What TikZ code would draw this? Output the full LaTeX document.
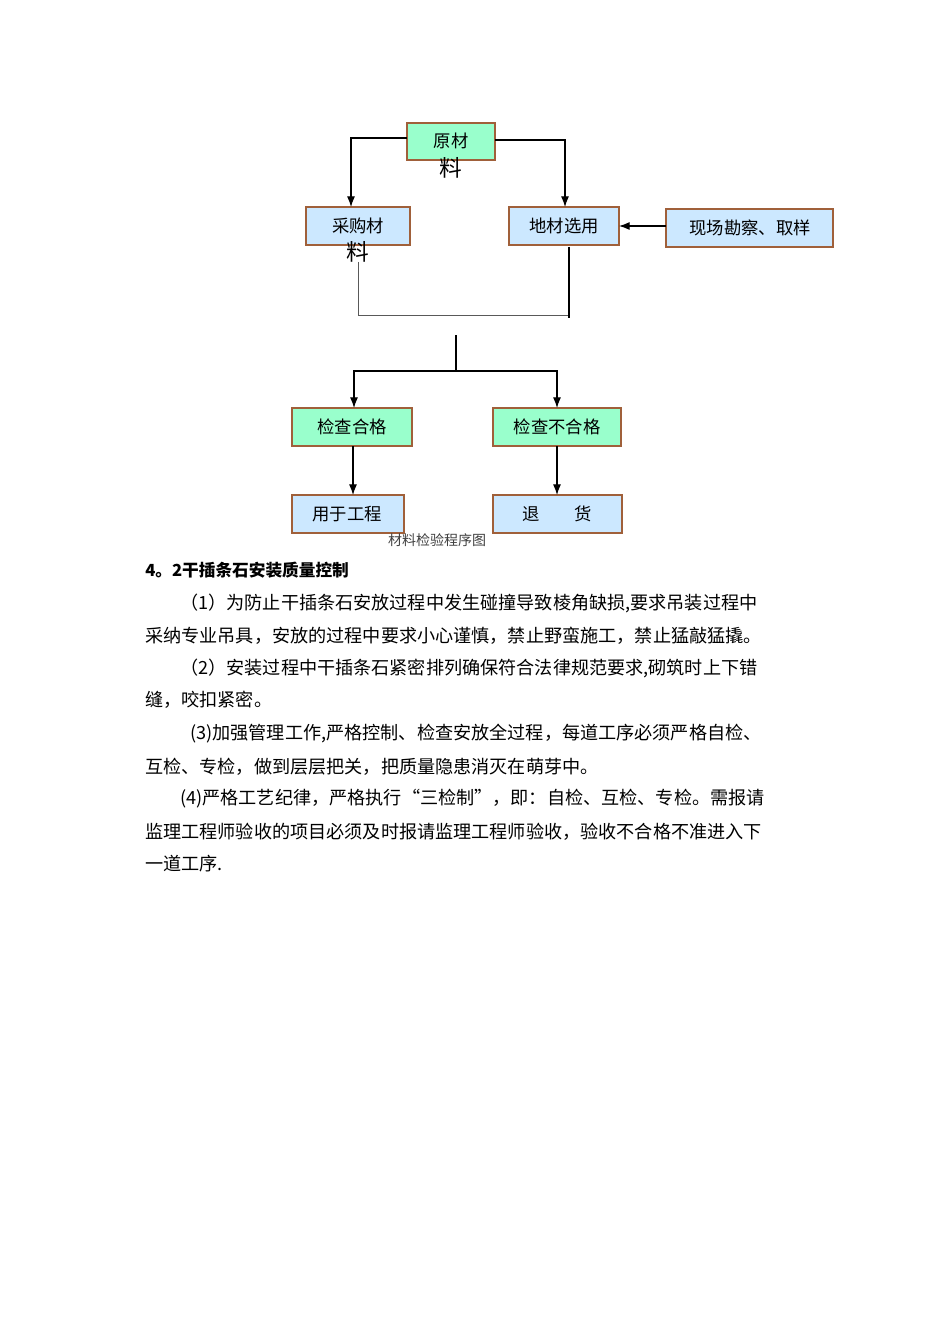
\documentclass[tikz,border=0pt]{standalone}
\usepackage{fontspec}
\newfontfamily\cjk{Noto Sans CJK SC}
\usetikzlibrary{arrows.meta}
\definecolor{gbox}{HTML}{99FFCC}
\definecolor{bbox}{HTML}{CCE8FF}
\definecolor{bord}{HTML}{A0603A}
\begin{document}
\begin{tikzpicture}[x=0.75pt,y=-0.75pt,
  box/.style={draw=bord,line width=1pt,inner sep=0pt},
  lbl/.style={font=\cjk\fontsize{13}{15}\selectfont},
  arr/.style={-{Latex[length=8pt,width=6pt]},line width=0.8pt},
  ln/.style={line width=0.8pt},
  para/.style={anchor=west,inner sep=0pt,font=\cjk\fontsize{13.6}{16}\selectfont}]
\useasboundingbox[fill=white] (0,0) rectangle (950,1344);
% boxes
\filldraw[box,fill=gbox] (407,123) rectangle (495,160);
\node[lbl] (ycl) at (451,141) {原材};
\node[lbl] (ycl2) at (451,168) {\fontsize{17}{19}\selectfont 料};
\filldraw[box,fill=bbox] (306,207) rectangle (410,245);
\node[lbl] (cg) at (358,226) {采购材};
\node[lbl] (cg2) at (358,252) {\fontsize{17}{19}\selectfont 料};
\filldraw[box,fill=bbox] (509,207) rectangle (619,245);
\node[lbl] (dc) at (564,226) {地材选用};
\filldraw[box,fill=bbox] (666,209) rectangle (833,247);
\node[lbl] (xc) at (750,228) {现场勘察、取样};
\filldraw[box,fill=gbox] (292,408) rectangle (412,446);
\node[lbl] (hg) at (352,427) {检查合格};
\filldraw[box,fill=gbox] (493,408) rectangle (621,446);
\node[lbl] (bhg) at (557,427) {检查不合格};
\filldraw[box,fill=bbox] (292,495) rectangle (404,533);
\node[lbl] (yy) at (347,514) {用于工程};
\filldraw[box,fill=bbox] (493,495) rectangle (622,533);
\node[lbl] (th) at (557,514) {退\hspace{2em}货};
% connectors
\coordinate (a1) at (351,138); \coordinate (a2) at (565,140);
\draw[arr] (407,138) -- (351,138) -- (351,207);
\draw[arr] (495,140) -- (565,140) -- (565,207);
\draw[arr] (666,226) -- (619,226);
\draw[line width=0.6pt,gray!70!black] (358,262) -- (358,315) -- (569,315);
\draw[ln] (569,247) -- (569,318);
\draw[ln] (456,335) -- (456,371);
\draw[arr] (456,371) -- (354,371) -- (354,408);
\draw[arr] (456,371) -- (557,371) -- (557,408);
\draw[arr] (353,446) -- (353,495);
\draw[arr] (557,446) -- (557,495);
\node[lbl,text=black!75,font=\cjk\fontsize{10.5}{12}\selectfont] (cap) at (437,540) {材料检验程序图};
% text
\node[para,font=\cjk\bfseries\fontsize{12.5}{15}\selectfont] (h) at (145,570) {4。2干插条石安装质量控制};
\node[para] (l1) at (180,603) {（1）为防止干插条石安放过程中发生碰撞导致棱角缺损,要求吊装过程中};
\node[para] (l2) at (145,636) {采纳专业吊具，安放的过程中要求小心谨慎，禁止野蛮施工，禁止猛敲猛撬。};
\node[para] (l3) at (180,668) {（2）安装过程中干插条石紧密排列确保符合法律规范要求,砌筑时上下错};
\node[para] (l4) at (145,700) {缝，咬扣紧密。};
\node[para] (l5) at (190,734) {(3)加强管理工作,严格控制、检查安放全过程，每道工序必须严格自检、};
\node[para] (l6) at (145,767) {互检、专检，做到层层把关，把质量隐患消灭在萌芽中。};
\node[para] (l7) at (180,799) {(4)严格工艺纪律，严格执行“三检制”，即：自检、互检、专检。需报请};
\node[para] (l8) at (145,832) {监理工程师验收的项目必须及时报请监理工程师验收，验收不合格不准进入下};
\node[para] (l9) at (145,864) {一道工序.};
\end{tikzpicture}
\end{document}
